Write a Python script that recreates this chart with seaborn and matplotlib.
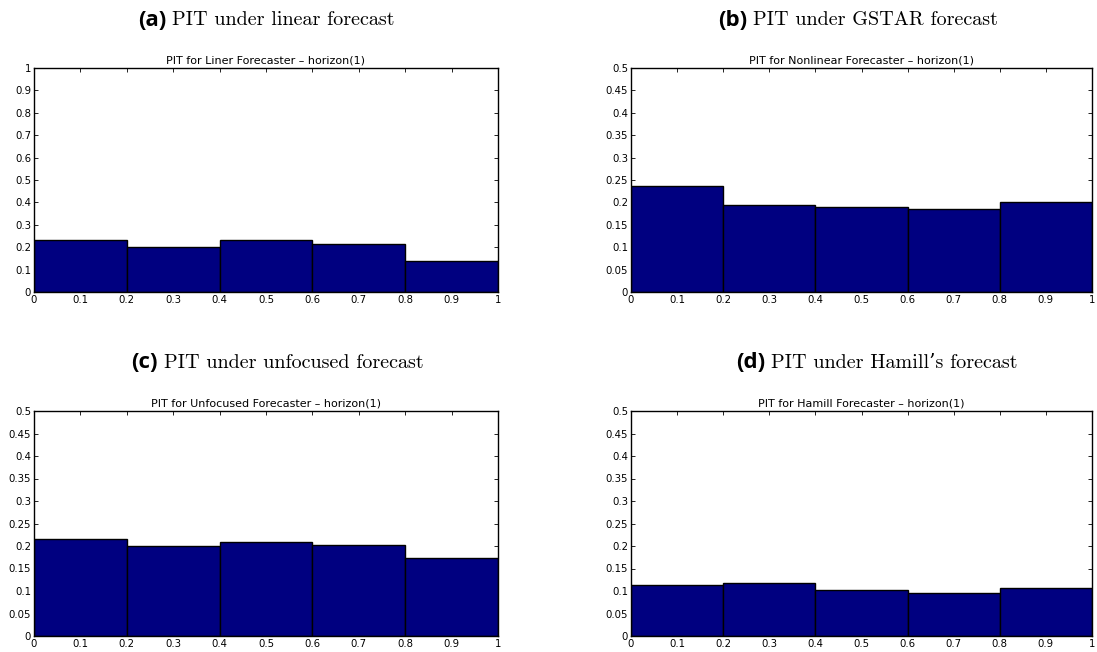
import numpy as np
import matplotlib
matplotlib.use("Agg")
import matplotlib.pyplot as plt
from matplotlib.ticker import FuncFormatter
import seaborn as sns

# PIT histogram values (5 bins on [0, 1])
bin_edges = [0.0, 0.2, 0.4, 0.6, 0.8, 1.0]
pit_linear = [0.230, 0.203, 0.230, 0.215, 0.137]
pit_gstar = [0.236, 0.194, 0.190, 0.185, 0.201]
pit_unfocused = [0.215, 0.200, 0.209, 0.203, 0.173]
pit_hamill = [0.114, 0.118, 0.102, 0.095, 0.106]

panel_tags = ["(a)", "(b)", "(c)", "(d)"]
panel_captions = ["PIT under linear forecast", "PIT under GSTAR forecast",
                  "PIT under unfocused forecast", "PIT under Hamill\u2019s forecast"]
axes_titles = ["PIT for Liner Forecaster \u2013 horizon(1)",
               "PIT for Nonlinear Forecaster \u2013 horizon(1)",
               "PIT for Unfocused Forecaster \u2013 horizon(1)",
               "PIT for Hamill Forecaster \u2013 horizon(1)"]
y_max = [1.0, 0.5, 0.5, 0.5]
y_step = [0.1, 0.05, 0.05, 0.05]
x_ticks = [0, 0.1, 0.2, 0.3, 0.4, 0.5, 0.6, 0.7, 0.8, 0.9, 1.0]

sns.set_style("ticks")
plt.rcParams["font.family"] = ["DejaVu Sans"]
plt.rcParams["text.color"] = "black"
plt.rcParams["xtick.color"] = "black"
plt.rcParams["ytick.color"] = "black"
plt.rcParams["axes.labelcolor"] = "black"

W, H = 1097, 652
fig = plt.figure(figsize=(W / 100, H / 100), dpi=100)

# axes boxes in pixels: left, top, right, bottom
boxes = [(34, 68, 498, 292), (631, 68, 1092, 292),
         (34, 411, 498, 636), (631, 411, 1092, 636)]
# caption positions: tag right edge x, y centre
caps = [(166, 20), (747, 20), (158, 363), (765, 363)]

values = [pit_linear, pit_gstar, pit_unfocused, pit_hamill]
centers = [(a + b) / 2 for a, b in zip(bin_edges[:-1], bin_edges[1:])]
fmt = FuncFormatter(lambda v, p: f"{v:g}")

for i in range(4):
    l, t, r, b = boxes[i]
    ax = fig.add_axes([l / W, 1 - b / H, (r - l) / W, (b - t) / H])
    sns.histplot(x=centers, weights=values[i], bins=bin_edges, stat="count",
                 color="#000080", edgecolor="black", linewidth=1.0, alpha=1,
                 ax=ax)
    ax.set_xlim(0, 1)
    ax.set_ylim(0, y_max[i])
    ax.set_xticks(x_ticks)
    n = int(round(y_max[i] / y_step[i]))
    ax.set_yticks([k * y_step[i] for k in range(n + 1)])
    ax.xaxis.set_major_formatter(fmt)
    ax.yaxis.set_major_formatter(fmt)
    ax.set_xlabel("")
    ax.set_ylabel("")
    ax.tick_params(direction="in", top=True, right=True, length=3,
                   width=0.6, labelsize=7.3, pad=2)
    for s in ax.spines.values():
        s.set_linewidth(1.0)
        s.set_color("black")
    ax.set_title(axes_titles[i], fontsize=8, pad=3)

    tx, ty = caps[i]
    fig.text(tx / W, 1 - ty / H, panel_tags[i], ha="right", va="center",
             fontsize=16, fontweight="bold", family=["Open Sans", "DejaVu Sans"])
    fig.text((tx + 6) / W, 1 - ty / H, panel_captions[i], ha="left",
             va="center", fontsize=14.5, family=["cmr10", "DejaVu Serif"])

fig.savefig("out.png", dpi=100)
